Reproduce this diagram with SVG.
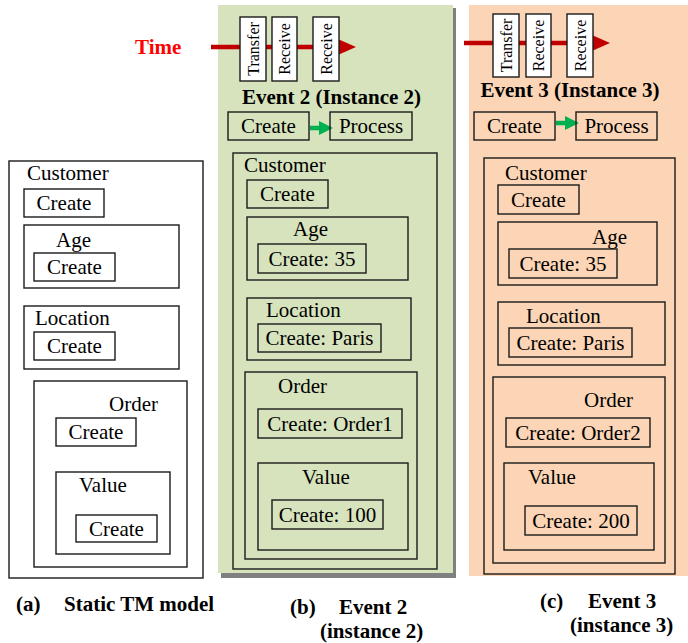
<svg xmlns="http://www.w3.org/2000/svg" width="688" height="643" viewBox="0 0 688 643">
<defs>
<style>
.bg{stroke:none}
.box{fill:none;stroke:#1a1a1a;stroke-width:1.4}
.wbox{fill:#ffffff;stroke:#1a1a1a;stroke-width:1.4}
.t{font-family:"Liberation Serif","Times New Roman",serif;font-size:21px;fill:#000}
.c{text-anchor:middle}
.b{font-weight:bold}
.v{font-family:"Liberation Serif","Times New Roman",serif;font-size:16px;fill:#000;text-anchor:middle}
.red{stroke:#c00000;stroke-width:4.5;fill:none}
.grn{stroke:#00b050;stroke-width:4.5;fill:none}
</style>
<marker id="ahRed" markerUnits="userSpaceOnUse" markerWidth="17" markerHeight="16" refX="1" refY="8" orient="auto">
<path d="M0,0.5 L17,8 L0,15.5 z" fill="#c00000"/>
</marker>
<marker id="ahGrn" markerUnits="userSpaceOnUse" markerWidth="14" markerHeight="14" refX="1" refY="7" orient="auto">
<path d="M0,0 L14,7 L0,14 z" fill="#00b050"/>
</marker>
</defs>

<!-- panel backgrounds -->
<g id="panel-b-bg">
<rect class="bg" x="221" y="8" width="235" height="570" fill="#808080"/>
<rect class="bg" x="218" y="5" width="235" height="568" fill="#d7e3bd"/>
</g>
<g id="panel-c-bg">
<rect class="bg" x="469" y="5" width="219" height="571" fill="#fbd5b5"/>
</g>

<g id="time-label"><text class="t b" x="135" y="54" fill="#ff0000" style="fill:#ff0000">Time</text></g>

<g id="connectors">
<line class="red" x1="211" y1="47" x2="340" y2="47" marker-end="url(#ahRed)"/>
<line class="red" x1="464" y1="43" x2="594" y2="43" marker-end="url(#ahRed)"/>
<line class="grn" x1="310" y1="128" x2="320" y2="128" marker-end="url(#ahGrn)"/>
<line class="grn" x1="556" y1="123" x2="566" y2="123" marker-end="url(#ahGrn)"/>
</g>

<!-- Panel b timeline events -->
<g id="b-transfer"><rect class="wbox" x="240" y="17" width="26" height="64"/><text class="v" transform="translate(258.5,49) rotate(-90)">Transfer</text></g>
<g id="b-receive1"><rect class="wbox" x="272" y="17" width="25" height="64"/><text class="v" transform="translate(290,49) rotate(-90)">Receive</text></g>
<g id="b-receive2"><rect class="wbox" x="313" y="17" width="26" height="64"/><text class="v" transform="translate(331.5,49) rotate(-90)">Receive</text></g>

<!-- Panel c timeline events -->
<g id="c-transfer"><rect class="wbox" x="493" y="14" width="26" height="63"/><text class="v" transform="translate(511.5,45.5) rotate(-90)">Transfer</text></g>
<g id="c-receive1"><rect class="wbox" x="526" y="14" width="25" height="63"/><text class="v" transform="translate(544,45.5) rotate(-90)">Receive</text></g>
<g id="c-receive2"><rect class="wbox" x="567" y="14" width="26" height="63"/><text class="v" transform="translate(585.5,45.5) rotate(-90)">Receive</text></g>

<!-- Panel a -->
<g id="a-customer"><rect class="box" x="9" y="161" width="194" height="417"/><text class="t" x="27" y="180">Customer</text></g>
<g id="a-customer-create"><rect class="box" x="24" y="189" width="80" height="28"/><text class="t c" x="64" y="210">Create</text></g>
<g id="a-age"><rect class="box" x="24" y="225" width="155" height="63"/><text class="t" x="56" y="247">Age</text></g>
<g id="a-age-create"><rect class="box" x="34" y="253" width="81" height="28"/><text class="t c" x="74.5" y="274">Create</text></g>
<g id="a-location"><rect class="box" x="24" y="306" width="155" height="63"/><text class="t" x="35" y="325">Location</text></g>
<g id="a-location-create"><rect class="box" x="34" y="332" width="81" height="28"/><text class="t c" x="74.5" y="353">Create</text></g>
<g id="a-order"><rect class="box" x="34" y="381" width="153" height="186"/><text class="t" x="109" y="411">Order</text></g>
<g id="a-order-create"><rect class="box" x="56" y="418" width="80" height="28"/><text class="t c" x="96" y="439">Create</text></g>
<g id="a-value"><rect class="box" x="56" y="472" width="114" height="82"/><text class="t" x="79" y="492">Value</text></g>
<g id="a-value-create"><rect class="box" x="76" y="515" width="81" height="27"/><text class="t c" x="116.5" y="535.5">Create</text></g>

<!-- Panel b -->
<g id="b-title"><text class="t b c" x="331.5" y="104">Event 2 (Instance 2)</text></g>
<g id="b-create"><rect class="box" x="228" y="112" width="81" height="28"/><text class="t c" x="268.5" y="133">Create</text></g>
<g id="b-process"><rect class="box" x="330" y="112" width="82" height="28"/><text class="t c" x="371" y="133">Process</text></g>
<g id="b-customer"><rect class="box" x="233" y="153" width="204" height="416"/><text class="t" x="244" y="172">Customer</text></g>
<g id="b-customer-create"><rect class="box" x="247" y="180" width="81" height="28"/><text class="t c" x="287.5" y="201">Create</text></g>
<g id="b-age"><rect class="box" x="247" y="217" width="161" height="63"/><text class="t" x="293" y="236">Age</text></g>
<g id="b-age-create"><rect class="box" x="258" y="244" width="108" height="29"/><text class="t c" x="312" y="265.5">Create: 35</text></g>
<g id="b-location"><rect class="box" x="247" y="298" width="164" height="62"/><text class="t" x="266" y="317">Location</text></g>
<g id="b-location-create"><rect class="box" x="258" y="324" width="123" height="28"/><text class="t c" x="319.5" y="345">Create: Paris</text></g>
<g id="b-order"><rect class="box" x="245" y="372" width="172" height="187"/><text class="t" x="278" y="393">Order</text></g>
<g id="b-order-create"><rect class="box" x="258" y="409" width="144" height="29"/><text class="t c" x="330" y="430.5">Create: Order1</text></g>
<g id="b-value"><rect class="box" x="258" y="463" width="150" height="87"/><text class="t" x="302" y="484">Value</text></g>
<g id="b-value-create"><rect class="box" x="272" y="500" width="111" height="29"/><text class="t c" x="327.5" y="521.5">Create: 100</text></g>

<!-- Panel c -->
<g id="c-title"><text class="t b c" x="570" y="97">Event 3 (Instance 3)</text></g>
<g id="c-create"><rect class="box" x="474" y="112" width="81" height="28"/><text class="t c" x="514.5" y="133">Create</text></g>
<g id="c-process"><rect class="box" x="576" y="112" width="81" height="28"/><text class="t c" x="616.5" y="133">Process</text></g>
<g id="c-customer"><rect class="box" x="484" y="158" width="191" height="416"/><text class="t" x="505" y="180">Customer</text></g>
<g id="c-customer-create"><rect class="box" x="498" y="185" width="81" height="29"/><text class="t c" x="538.5" y="206.5">Create</text></g>
<g id="c-age"><rect class="box" x="498" y="222" width="159" height="63"/><text class="t" x="592" y="244">Age</text></g>
<g id="c-age-create"><rect class="box" x="509" y="249" width="108" height="29"/><text class="t c" x="563" y="270.5">Create: 35</text></g>
<g id="c-location"><rect class="box" x="498" y="302" width="167" height="63"/><text class="t" x="526" y="323">Location</text></g>
<g id="c-location-create"><rect class="box" x="509" y="328" width="123" height="29"/><text class="t c" x="570.5" y="349.5">Create: Paris</text></g>
<g id="c-order"><rect class="box" x="493" y="377" width="172" height="186"/><text class="t" x="584" y="407">Order</text></g>
<g id="c-order-create"><rect class="box" x="506" y="418" width="144" height="29"/><text class="t c" x="578" y="439.5">Create: Order2</text></g>
<g id="c-value"><rect class="box" x="504" y="463" width="150" height="87"/><text class="t" x="528" y="484">Value</text></g>
<g id="c-value-create"><rect class="box" x="525" y="506" width="112" height="29"/><text class="t c" x="581" y="527.5">Create: 200</text></g>

<!-- Captions -->
<g id="captions">
<text class="t b" x="16" y="611">(a)</text>
<text class="t b" x="64" y="611">Static TM model</text>
<text class="t b" x="290" y="614">(b)</text>
<text class="t b" x="339" y="614">Event 2</text>
<text class="t b" x="320" y="638">(instance 2)</text>
<text class="t b" x="540" y="608">(c)</text>
<text class="t b" x="588" y="608">Event 3</text>
<text class="t b" x="570" y="632">(instance 3)</text>
</g>
</svg>
